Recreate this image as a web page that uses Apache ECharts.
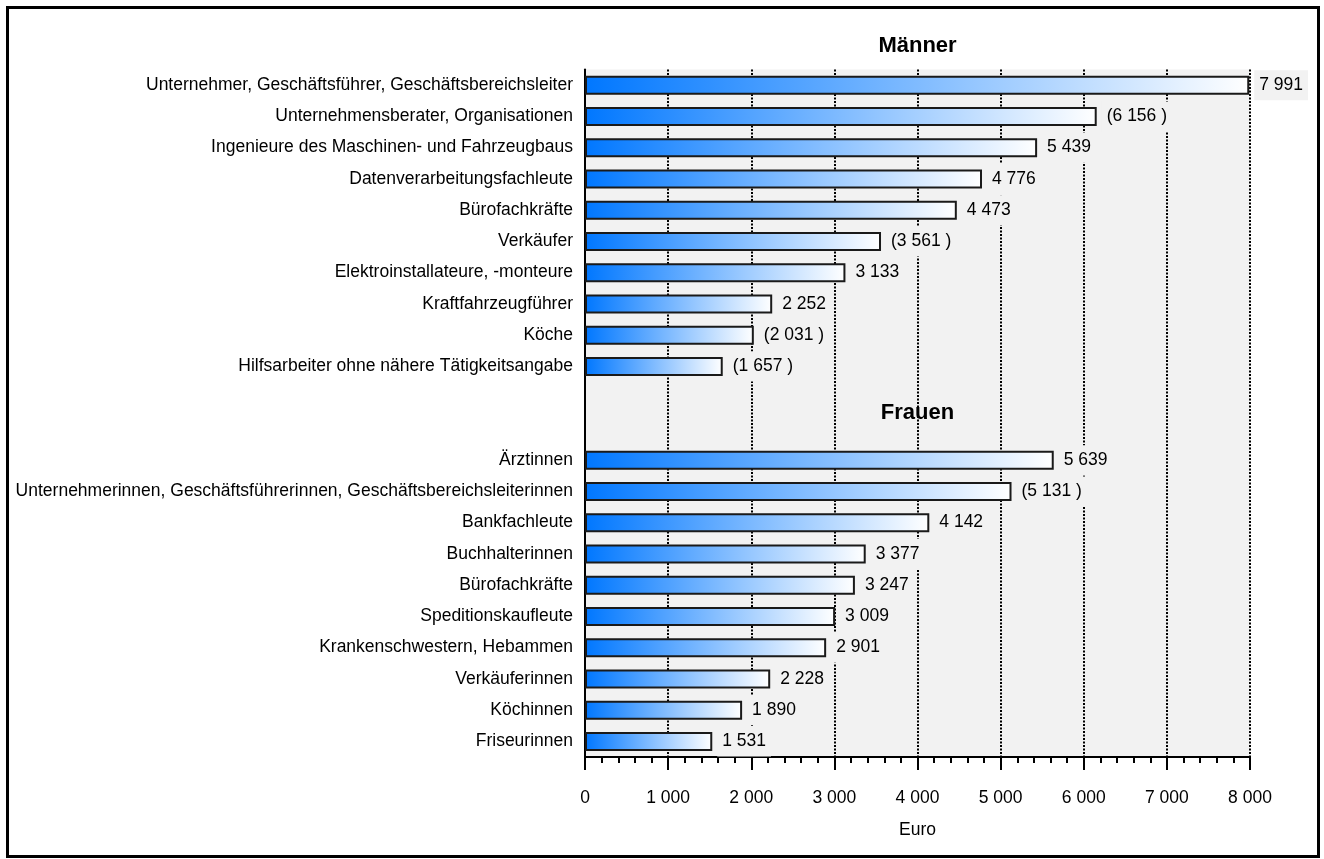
<!DOCTYPE html>
<html>
<head>
<meta charset="utf-8">
<script src="https://cdn.jsdelivr.net/npm/echarts@6/dist/echarts.min.js"></script>
<style>html,body{margin:0;padding:0;background:#fff}#c{width:1324px;height:859px}</style>
</head>
<body>
<div id="c"></div>
<script>
const menCategories = [
  'Unternehmer, Geschäftsführer, Geschäftsbereichsleiter',
  'Unternehmensberater, Organisationen',
  'Ingenieure des Maschinen- und Fahrzeugbaus',
  'Datenverarbeitungsfachleute',
  'Bürofachkräfte',
  'Verkäufer',
  'Elektroinstallateure, -monteure',
  'Kraftfahrzeugführer',
  'Köche',
  'Hilfsarbeiter ohne nähere Tätigkeitsangabe'
];
const menValues = [7991, 6156, 5439, 4776, 4473, 3561, 3133, 2252, 2031, 1657];
const menBracketed = [false, true, false, false, false, true, false, false, true, true];

const womenCategories = [
  'Ärztinnen',
  'Unternehmerinnen, Geschäftsführerinnen, Geschäftsbereichsleiterinnen',
  'Bankfachleute',
  'Buchhalterinnen',
  'Bürofachkräfte',
  'Speditionskaufleute',
  'Krankenschwestern, Hebammen',
  'Verkäuferinnen',
  'Köchinnen',
  'Friseurinnen'
];
const womenValues = [5639, 5131, 4142, 3377, 3247, 3009, 2901, 2228, 1890, 1531];
const womenBracketed = [false, true, false, false, false, false, false, false, false, false];

const groupTitles = ['Männer', 'Frauen'];
const axisName = 'Euro';
const xTicks = [0, 1000, 2000, 3000, 4000, 5000, 6000, 7000, 8000];

// combined rows: men, 2 spacer rows, women
const labels = [...menCategories, '', '', ...womenCategories];
const values = [...menValues, null, null, ...womenValues];
const bracketed = [...menBracketed, false, false, ...womenBracketed];

const FONT = "'Liberation Sans', Arial, sans-serif";
const FS = 17.5;
const fmt = v => String(v).replace(/\B(?=(\d{3})+(?!\d))/g, ' ');

const gridLeft = 585, gridRight = 74, gridTop = 69.5, gridBottom = 102;
const W = 1324, H = 859;
const gridCx = gridLeft + (W - gridLeft - gridRight) / 2;
const rowH = (H - gridTop - gridBottom) / labels.length;

const chart = echarts.init(document.getElementById('c'), null, {renderer: 'canvas'});
chart.setOption({
  animation: false,
  backgroundColor: '#ffffff',
  grid: {left: gridLeft, right: gridRight, top: gridTop, bottom: gridBottom, show: true, backgroundColor: '#f2f2f2', borderWidth: 0},
  xAxis: {
    type: 'value', min: xTicks[0], max: xTicks[xTicks.length - 1], interval: 1000,
    name: axisName, nameLocation: 'middle', nameGap: 64,
    nameTextStyle: {fontFamily: FONT, fontSize: FS, color: '#000'},
    axisLine: {show: true, lineStyle: {color: '#000', width: 2}},
    axisTick: {show: true, length: 13, lineStyle: {color: '#000', width: 2}},
    minorTick: {show: true, splitNumber: 5, length: 6, lineStyle: {color: '#000', width: 2}},
    splitLine: {show: true, lineStyle: {color: '#000', width: 2, type: [2, 1.5]}},
    axisLabel: {fontFamily: FONT, fontSize: FS, color: '#000', margin: 32, formatter: v => fmt(v)}
  },
  yAxis: {
    type: 'category', inverse: true,
    data: labels.map((l, i) => String(i)),
    axisLine: {show: true, lineStyle: {color: '#000', width: 2}},
    axisTick: {show: false},
    splitLine: {show: false},
    axisLabel: {fontFamily: FONT, fontSize: FS, color: '#000', margin: 12, formatter: v => labels[+v]}
  },
  series: [{
    type: 'bar',
    data: values,
    barWidth: 19,
    itemStyle: {
      borderColor: '#1a1a1a', borderWidth: 2,
      color: {type: 'linear', x: 0, y: 0, x2: 1, y2: 0, colorStops: [
        {offset: 0, color: '#0077ff'}, {offset: 1, color: '#ffffff'}
      ]}
    },
    label: {
      show: true, position: 'right', distance: 5,
      fontFamily: FONT, fontSize: FS, color: '#000',
      backgroundColor: '#f2f2f2', padding: [6, 5],
      formatter: p => bracketed[p.dataIndex] ? '(' + fmt(p.value) + ' )' : fmt(p.value)
    }
  }],
  graphic: [
    {type: 'rect', shape: {x: 7.5, y: 7.5, width: 1311, height: 849}, style: {fill: 'none', stroke: '#000', lineWidth: 3}, silent: true},
    {type: 'text', x: gridCx, y: 46, style: {text: groupTitles[0], font: "bold 22px 'Liberation Sans', Arial, sans-serif", fill: '#000', textAlign: 'center', textVerticalAlign: 'middle'}},
    {type: 'text', x: gridCx, y: gridTop + rowH * 11, style: {text: groupTitles[1], font: "bold 22px 'Liberation Sans', Arial, sans-serif", fill: '#000', textAlign: 'center', textVerticalAlign: 'middle', backgroundColor: '#f2f2f2', padding: [9, 6]}}
  ]
});
</script>
</body>
</html>
